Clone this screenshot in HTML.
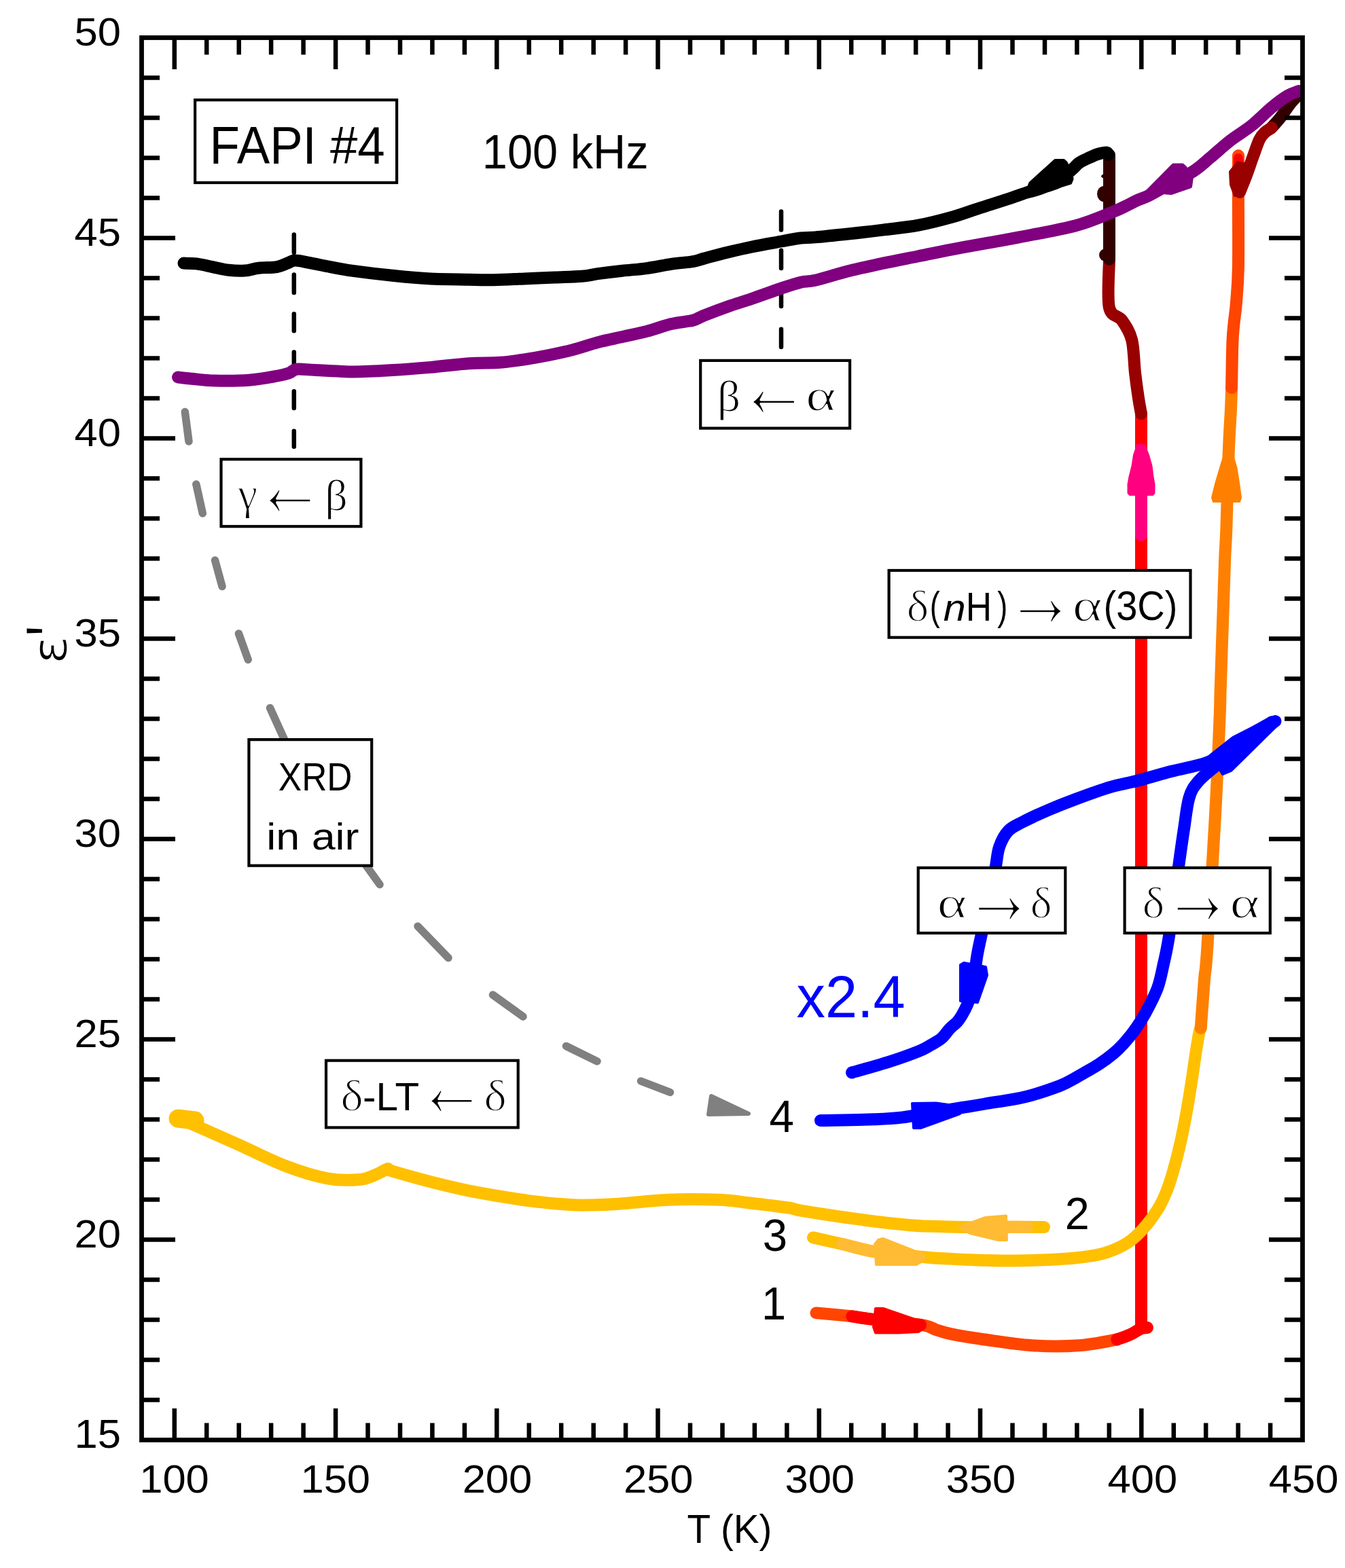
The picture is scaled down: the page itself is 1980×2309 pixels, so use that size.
<!DOCTYPE html>
<html><head><meta charset="utf-8"><title>FAPI #4 dielectric permittivity vs temperature</title>
<style>html,body{margin:0;padding:0;background:#fff;}svg{display:block;}</style></head>
<body><svg width="1980" height="2309" viewBox="0 0 1980 2309">
<rect width="1980" height="2309" fill="#fff"/>
<defs><clipPath id="pc"><rect x="208.5" y="55.5" width="1709" height="2065"/></clipPath></defs><g clip-path="url(#pc)">
<path d="M272.3,606.5 L278.0,650.0 M288.8,713.0 L298.3,756.0 M316.5,825.0 L327.0,863.6 M351.4,933.0 L365.2,971.4 M397.5,1042.5 L420.0,1092.0 M530.0,1262.0 L559.0,1302.5 M615.0,1364.0 L660.0,1410.5 M725.5,1465.0 L770.0,1497.0 M833.5,1540.5 L879.0,1562.8 M943.5,1592.0 L986.5,1608.5" stroke="#808080" stroke-width="11.5" stroke-linecap="round" fill="none"/>
<path d="M1047.0,1614.0 L1102.0,1640.0 L1043.0,1641.0Z" fill="#808080" stroke="#808080" stroke-width="6" stroke-linejoin="round"/>
<path d="M432.8,345.5 L432.8,372 M432.8,404.6 L432.8,431 M432.8,462.3 L432.8,487.2 M432.8,518.6 L432.8,543.5 M432.8,576.3 L432.8,601 M432.8,634.8 L432.8,657.7 M1150,311.6 L1150,338.6 M1150,368.7 L1150,394.9 M1150,425.9 L1150,451.1 M1150,484.8 L1150,510.9" stroke="#000" stroke-width="6.5" stroke-linecap="round" fill="none"/>
<path d="M1680.0,609.3 L1680.0,1953.0" fill="none" stroke="#ff0000" stroke-width="18" stroke-linecap="round" stroke-linejoin="round" />
<path d="M1197.0,1822.4 C1204.2,1824.0 1224.6,1828.5 1239.9,1832.0 C1255.2,1835.5 1268.1,1840.2 1288.7,1843.5 C1309.3,1846.8 1346.3,1849.8 1363.8,1851.5 C1381.3,1853.2 1381.8,1852.7 1393.9,1853.4 C1406.0,1854.1 1420.5,1855.0 1436.6,1855.5 C1452.7,1856.0 1470.8,1856.7 1490.6,1856.5 C1510.4,1856.3 1537.2,1855.5 1555.4,1854.5 C1573.6,1853.5 1587.6,1852.2 1600.0,1850.4 C1612.4,1848.7 1620.0,1847.4 1630.0,1844.0 C1640.0,1840.6 1651.2,1835.7 1660.0,1830.0 C1668.8,1824.3 1675.0,1818.3 1682.5,1810.0 C1690.0,1801.7 1699.0,1789.2 1704.8,1780.0 C1710.5,1770.8 1713.3,1764.2 1717.0,1755.0 C1720.7,1745.8 1723.6,1736.9 1727.0,1725.0 C1730.4,1713.1 1734.2,1698.4 1737.6,1683.4 C1741.0,1668.4 1744.3,1651.2 1747.2,1635.1 C1750.1,1619.0 1752.8,1601.4 1755.0,1586.9 C1757.2,1572.4 1758.9,1559.6 1760.7,1548.3 C1762.5,1537.0 1764.4,1525.0 1765.6,1519.3 C1766.8,1513.6 1767.3,1514.9 1767.7,1514.0" fill="none" stroke="#ffc000" stroke-width="18" stroke-linecap="round" stroke-linejoin="round" />
<path d="M1767.7,1514.0 C1768.6,1502.0 1771.5,1461.0 1773.0,1442.0 C1774.5,1423.0 1774.3,1440.3 1777.0,1400.0 C1779.7,1359.7 1785.9,1256.7 1789.0,1200.0 C1792.1,1143.3 1794.2,1089.7 1795.4,1060.0 C1796.7,1030.3 1796.0,1039.3 1796.5,1021.8 C1797.0,1004.3 1798.0,977.4 1798.7,955.2 C1799.5,933.0 1800.2,910.8 1801.0,888.6 C1801.8,866.4 1802.5,840.5 1803.2,822.0 C1803.9,803.5 1804.5,803.5 1805.4,777.6 C1806.3,751.7 1807.6,696.2 1808.7,666.6 C1809.8,637.0 1811.4,615.9 1812.1,600.0 C1812.8,584.1 1812.9,575.9 1813.1,571.1" fill="none" stroke="#ff8000" stroke-width="18" stroke-linecap="round" stroke-linejoin="round" />
<path d="M1813.1,571.1 C1813.3,560.0 1813.8,520.4 1814.4,504.2 C1815.0,488.0 1815.9,483.3 1816.8,473.8 C1817.7,464.3 1818.8,460.6 1819.8,447.4 C1820.8,434.2 1822.4,421.1 1822.9,394.7 C1823.4,368.3 1822.9,316.6 1822.9,289.0 C1822.9,261.4 1823.0,239.0 1823.0,229.0" fill="none" stroke="#ff4500" stroke-width="18" stroke-linecap="round" stroke-linejoin="round" />
<path d="M1823.0,233.0 L1823.0,250.0" fill="none" stroke="#ff0000" stroke-width="14" stroke-linecap="round" stroke-linejoin="round" />
<path d="M1239.9,1832.0 C1248.0,1833.9 1273.7,1840.8 1288.7,1843.5 C1303.7,1846.2 1323.1,1847.2 1330.0,1848.0" fill="none" stroke="#ffbb33" stroke-width="18" stroke-linecap="round" stroke-linejoin="round" />
<path d="M1288.0,1832.0 L1293.0,1826.0 L1300.0,1824.0 L1361.0,1848.0 L1361.0,1855.0 L1349.0,1862.0 L1290.0,1862.0Z" fill="#ffbb33" stroke="#ffbb33" stroke-width="4" stroke-linejoin="round"/>
<path d="M1804.0,663.0 L1813.0,663.0 L1820.5,689.0 L1824.0,711.0 L1827.0,733.0 L1825.0,739.0 L1786.0,739.0 L1784.0,733.0 L1789.5,711.0 L1796.0,689.0Z" fill="#ff8000" stroke="#ff8000" stroke-width="2" stroke-linejoin="round"/>
<path d="M1633.0,381.0 C1633.0,392.9 1629.7,437.3 1632.8,452.4 C1635.9,467.5 1646.1,463.6 1651.7,471.7 C1657.3,479.8 1663.0,487.8 1666.2,500.7 C1669.4,513.6 1669.4,534.9 1671.0,549.0 C1672.6,563.1 1674.3,575.2 1675.8,585.2 C1677.3,595.2 1679.3,605.3 1680.0,609.3" fill="none" stroke="#990000" stroke-width="18" stroke-linecap="round" stroke-linejoin="round" />
<path d="M1633.0,228.0 L1633.0,382.0" fill="none" stroke="#330000" stroke-width="18" stroke-linecap="round" stroke-linejoin="round" />
<ellipse cx="1625" cy="285.5" rx="10" ry="11.5" fill="#330000"/>
<ellipse cx="1628" cy="375.5" rx="10" ry="9.5" fill="#330000"/>
<ellipse cx="1630" cy="259.5" rx="9" ry="4" fill="#330000"/>
<path d="M1914.0,137.0 C1911.7,139.5 1904.8,146.0 1900.0,152.0 C1895.2,158.0 1889.8,166.8 1885.0,173.0 C1880.2,179.2 1873.3,186.3 1871.0,189.0" fill="none" stroke="#330000" stroke-width="18" stroke-linecap="round" stroke-linejoin="round" />
<path d="M1872.0,188.0 C1870.3,189.2 1865.0,192.1 1862.0,195.0 C1859.0,197.9 1856.9,199.6 1854.0,205.6 C1851.1,211.6 1847.7,222.3 1844.5,231.0 C1841.3,239.7 1838.2,249.3 1835.0,258.0 C1831.8,266.7 1826.7,278.8 1825.0,283.0" fill="none" stroke="#990000" stroke-width="18" stroke-linecap="round" stroke-linejoin="round" />
<path d="M1811.0,253.0 L1822.0,239.0 L1838.0,243.0 L1838.0,268.0 L1828.0,288.0 L1818.0,288.0 L1812.0,272.0Z" fill="#990000" stroke="#990000" stroke-width="4" stroke-linejoin="round"/>
<path d="M270.5,387.6 C273.6,387.7 282.3,387.5 289.4,388.4 C296.5,389.3 305.1,391.5 313.0,393.1 C320.9,394.7 328.8,396.9 336.7,397.8 C344.6,398.7 352.9,399.1 360.3,398.6 C367.7,398.1 372.9,395.6 380.8,394.7 C388.7,393.8 400.5,394.3 407.6,393.1 C414.7,391.9 418.8,389.2 423.3,387.6 C427.8,386.0 429.1,383.7 434.4,383.6 C439.7,383.5 446.2,385.2 454.9,386.8 C463.6,388.4 475.9,391.1 486.4,393.1 C496.9,395.1 502.7,396.5 517.9,398.6 C533.1,400.7 558.3,403.8 577.6,405.8 C596.9,407.8 617.5,409.7 633.9,410.6 C650.3,411.5 660.6,411.1 676.1,411.4 C691.6,411.7 711.0,412.4 727.0,412.2 C743.0,412.0 757.0,411.0 772.0,410.4 C787.0,409.8 802.9,409.2 817.0,408.6 C831.1,408.0 846.2,407.7 856.7,406.8 C867.2,405.9 870.1,404.6 880.0,403.2 C889.9,401.8 904.1,400.0 916.1,398.7 C928.1,397.4 940.1,396.8 952.1,395.1 C964.1,393.5 976.8,390.5 988.1,388.8 C999.4,387.1 1011.9,386.6 1020.0,385.2 C1028.2,383.8 1028.4,382.8 1037.0,380.5 C1045.6,378.2 1059.7,374.3 1071.4,371.5 C1083.1,368.7 1093.9,366.2 1107.0,363.5 C1120.1,360.8 1138.1,357.7 1150.0,355.5 C1161.9,353.3 1170.3,351.5 1178.6,350.5 C1186.9,349.5 1188.0,350.4 1200.0,349.4 C1212.0,348.4 1233.7,346.1 1250.6,344.3 C1267.5,342.5 1284.4,340.5 1301.3,338.4 C1318.2,336.3 1335.1,334.9 1352.0,331.7 C1368.9,328.5 1387.6,323.6 1402.6,319.4 C1417.6,315.2 1428.2,310.9 1441.8,306.5 C1455.4,302.1 1472.6,296.8 1484.0,293.0 C1495.4,289.2 1503.2,286.2 1510.0,284.0 C1516.8,281.8 1520.0,281.6 1525.0,280.0 C1530.0,278.4 1534.7,276.4 1540.0,274.5 C1545.3,272.6 1552.0,271.4 1557.0,268.5 C1562.0,265.6 1566.2,260.4 1570.0,257.0 C1573.8,253.6 1576.8,250.9 1580.0,248.0 C1583.2,245.1 1585.0,242.2 1589.0,239.5 C1593.0,236.8 1599.5,234.1 1604.0,232.0 C1608.5,229.9 1611.9,228.2 1616.0,227.0 C1620.1,225.8 1625.9,224.3 1628.6,224.5 C1631.3,224.7 1631.4,227.4 1632.0,228.0" fill="none" stroke="#000" stroke-width="18" stroke-linecap="round" stroke-linejoin="round" />
<path d="M1512.0,279.0 L1516.0,269.0 L1553.0,235.5 L1566.0,235.5 L1570.0,239.0 L1578.0,256.0 L1579.0,264.0 L1576.5,270.0 L1557.0,276.0 L1535.0,282.0Z" fill="#000" stroke="#000" stroke-width="3" stroke-linejoin="round"/>
<path d="M262.0,555.5 C265.4,555.9 273.2,556.9 282.2,557.8 C291.2,558.6 301.9,560.3 316.0,560.6 C330.1,560.9 351.1,560.9 366.6,559.7 C382.1,558.5 399.0,555.2 408.8,553.5 C418.6,551.8 421.0,550.9 425.7,549.3 C430.4,547.7 430.4,544.4 437.0,543.7 C443.6,543.0 451.0,544.5 465.1,545.1 C479.2,545.7 502.6,547.4 521.4,547.4 C540.1,547.4 558.9,546.2 577.6,545.1 C596.4,544.0 615.1,542.5 633.9,540.9 C652.7,539.2 673.2,536.4 690.2,535.2 C707.2,534.0 722.4,534.8 736.0,533.8 C749.6,532.8 760.0,531.1 772.0,529.3 C784.0,527.5 796.0,525.4 808.0,523.0 C820.0,520.6 832.1,518.0 844.1,514.9 C856.1,511.8 868.1,507.2 880.1,504.1 C892.1,501.0 904.1,498.7 916.1,496.0 C928.1,493.3 940.1,491.0 952.1,487.9 C964.1,484.8 976.8,479.8 988.1,477.1 C999.4,474.4 1012.1,473.8 1020.0,471.7 C1027.9,469.6 1027.1,468.2 1035.7,464.8 C1044.3,461.4 1059.5,455.6 1071.4,451.4 C1083.3,447.2 1094.0,444.3 1107.1,439.8 C1120.2,435.3 1138.1,428.6 1150.0,424.6 C1161.9,420.6 1170.3,417.7 1178.6,415.7 C1186.9,413.7 1188.0,415.5 1200.0,412.7 C1212.0,409.9 1233.7,403.0 1250.6,398.8 C1267.5,394.6 1284.4,391.0 1301.3,387.4 C1318.2,383.8 1335.1,380.6 1352.0,377.2 C1368.9,373.8 1385.7,370.3 1402.6,367.1 C1419.5,363.9 1437.0,360.8 1453.2,357.8 C1469.4,354.9 1478.3,353.7 1500.0,349.4 C1521.7,345.1 1560.8,338.3 1583.6,332.2 C1606.4,326.1 1624.1,317.7 1636.8,312.7 C1649.5,307.7 1653.6,305.1 1660.0,302.1 C1666.4,299.1 1670.1,296.8 1675.2,294.5 C1680.3,292.2 1682.9,292.1 1690.4,288.4 C1697.9,284.6 1708.9,278.1 1720.0,272.0 C1731.1,265.9 1746.9,258.5 1757.2,251.9 C1767.5,245.3 1772.5,239.8 1781.6,232.2 C1790.7,224.6 1801.9,214.2 1812.0,206.4 C1822.1,198.6 1832.2,193.2 1842.3,185.1 C1852.4,177.0 1863.8,165.0 1872.7,157.7 C1881.6,150.3 1889.0,144.9 1895.5,141.0 C1902.0,137.1 1909.2,135.2 1912.0,134.0" fill="none" stroke="#800080" stroke-width="18" stroke-linecap="round" stroke-linejoin="round" />
<path d="M1688.0,282.0 L1727.0,242.5 L1741.0,242.5 L1745.0,246.0 L1755.0,261.0 L1753.0,275.0 L1724.0,285.0Z" fill="#800080" stroke="#800080" stroke-width="4" stroke-linejoin="round"/>
<path d="M265.0,1647.0 C269.7,1649.1 278.8,1653.5 293.0,1659.8 C307.2,1666.1 329.0,1675.5 350.0,1685.0 C371.0,1694.5 397.1,1708.1 419.1,1716.5 C441.1,1724.9 463.7,1732.0 482.1,1735.4 C500.5,1738.8 517.3,1738.0 529.4,1737.0 C541.5,1736.0 547.8,1731.7 554.6,1729.1 C561.4,1726.5 566.7,1722.0 570.4,1721.2 C574.1,1720.4 565.2,1721.0 576.7,1724.4 C588.2,1727.8 618.7,1736.5 639.7,1741.7 C660.7,1747.0 679.3,1751.5 702.7,1755.9 C726.1,1760.3 757.4,1765.3 780.0,1768.3 C802.6,1771.3 823.2,1773.1 838.5,1774.1 C853.8,1775.1 859.8,1774.6 872.0,1774.4 C884.2,1774.2 892.9,1774.0 911.7,1772.7 C930.5,1771.4 960.5,1767.8 984.9,1766.8 C1009.3,1765.8 1038.5,1766.1 1058.0,1766.8 C1077.5,1767.5 1084.8,1769.2 1101.9,1771.2 C1119.0,1773.2 1147.4,1776.6 1160.4,1778.5 C1173.4,1780.4 1162.5,1779.9 1180.0,1782.8 C1197.5,1785.7 1238.8,1792.1 1265.5,1795.7 C1292.2,1799.3 1319.0,1802.4 1340.4,1804.2 C1361.8,1806.0 1377.3,1805.9 1393.9,1806.4 C1410.5,1806.9 1423.9,1807.2 1440.0,1807.3 C1456.1,1807.4 1474.4,1806.8 1490.6,1806.8 C1506.8,1806.8 1529.3,1807.0 1537.0,1807.0" fill="none" stroke="#ffc000" stroke-width="18" stroke-linecap="round" stroke-linejoin="round" />
<path d="M262.0,1647.0 L287.0,1650.0" fill="none" stroke="#ffc000" stroke-width="27" stroke-linecap="round" stroke-linejoin="round" />
<path d="M1440.0,1807.3 C1448.4,1807.2 1478.6,1806.8 1490.6,1806.8 C1502.6,1806.8 1508.4,1807.0 1512.0,1807.0" fill="none" stroke="#ffbb33" stroke-width="18" stroke-linecap="round" stroke-linejoin="round" />
<path d="M1412.0,1807.0 L1451.0,1793.0 L1481.0,1790.5 L1482.0,1826.0 L1470.0,1826.0 L1428.0,1816.0Z" fill="#ffbb33" stroke="#ffbb33" stroke-width="4" stroke-linejoin="round"/>
<path d="M1201.5,1933.4 C1206.2,1933.8 1220.7,1935.1 1229.5,1935.9 C1238.3,1936.7 1246.0,1937.4 1254.3,1938.4 C1262.5,1939.4 1268.0,1940.7 1279.0,1942.1 C1290.0,1943.5 1306.2,1945.3 1320.0,1947.0 C1333.8,1948.7 1352.3,1950.1 1362.0,1952.0 C1371.7,1953.9 1371.8,1956.1 1378.1,1958.2 C1384.4,1960.3 1388.2,1962.0 1400.0,1964.4 C1411.8,1966.8 1429.1,1969.7 1448.9,1972.5 C1468.7,1975.3 1495.4,1979.8 1518.7,1981.2 C1542.0,1982.7 1567.6,1982.7 1588.5,1981.2 C1609.4,1979.8 1635.0,1974.0 1644.3,1972.5" fill="none" stroke="#ff4500" stroke-width="18" stroke-linecap="round" stroke-linejoin="round" />
<path d="M1254.3,1938.4 C1258.4,1939.0 1268.0,1940.7 1279.0,1942.1 C1290.0,1943.5 1307.3,1945.5 1320.0,1947.0 C1332.7,1948.5 1349.2,1950.3 1355.0,1951.0" fill="none" stroke="#ff0000" stroke-width="18" stroke-linecap="round" stroke-linejoin="round" />
<path d="M1289.0,1927.0 L1300.0,1927.0 L1361.0,1948.0 L1361.0,1955.0 L1352.0,1961.0 L1323.0,1962.5 L1289.0,1962.5 L1286.0,1954.0Z" fill="#ff0000" stroke="#ff0000" stroke-width="4" stroke-linejoin="round"/>
<path d="M1644.3,1972.5 C1647.2,1971.4 1656.8,1968.3 1662.0,1966.0 C1667.2,1963.7 1672.5,1960.2 1675.7,1958.5 C1678.9,1956.8 1678.8,1956.6 1681.0,1956.0 C1683.2,1955.4 1687.7,1955.2 1689.0,1955.0" fill="none" stroke="#ff0000" stroke-width="18" stroke-linecap="round" stroke-linejoin="round" />
<path d="M1872.3,1063.3 C1865.0,1067.6 1839.1,1082.3 1828.3,1089.2 C1817.5,1096.1 1816.2,1099.1 1807.6,1104.7 C1799.0,1110.3 1790.3,1117.6 1776.5,1122.8 C1762.7,1128.0 1742.0,1131.3 1724.8,1135.8 C1707.5,1140.3 1688.1,1146.1 1673.0,1150.0 C1657.9,1153.9 1649.3,1154.6 1634.2,1159.1 C1619.1,1163.6 1597.5,1171.6 1582.4,1177.2 C1567.3,1182.8 1556.5,1187.1 1543.5,1192.7 C1530.5,1198.3 1514.6,1205.7 1504.7,1210.9 C1494.8,1216.1 1489.6,1217.8 1484.0,1223.8 C1478.4,1229.8 1474.1,1238.5 1471.1,1247.1 C1468.1,1255.7 1468.1,1263.4 1465.9,1275.6 C1463.7,1287.8 1460.7,1306.8 1458.0,1320.0 C1455.3,1333.2 1452.3,1345.0 1450.0,1355.0 C1447.7,1365.0 1445.9,1371.3 1444.0,1380.0 C1442.1,1388.7 1440.2,1397.0 1438.5,1407.0 C1436.8,1417.0 1435.4,1430.8 1434.0,1440.0 C1432.6,1449.2 1431.7,1455.3 1430.0,1462.0 C1428.3,1468.7 1426.0,1474.5 1423.7,1480.0 C1421.4,1485.5 1418.5,1490.8 1416.0,1495.0 C1413.5,1499.2 1412.0,1501.7 1409.0,1505.0 C1406.0,1508.3 1401.8,1511.0 1398.0,1515.0 C1394.2,1519.0 1390.7,1525.0 1386.0,1529.0 C1381.3,1533.0 1375.6,1535.8 1370.0,1539.0 C1364.4,1542.2 1362.9,1543.8 1352.5,1548.0 C1342.1,1552.2 1323.9,1558.8 1307.5,1564.0 C1291.1,1569.2 1262.9,1576.9 1254.0,1579.5" fill="none" stroke="#0000ff" stroke-width="18" stroke-linecap="round" stroke-linejoin="round" />
<path d="M1414.0,1421.0 L1419.0,1418.0 L1451.0,1424.0 L1453.0,1436.0 L1439.0,1476.0 L1414.0,1474.0Z" fill="#0000ff" stroke="#0000ff" stroke-width="4" stroke-linejoin="round"/>
<path d="M1208.0,1650.0 C1221.1,1649.7 1266.4,1649.1 1286.6,1648.3 C1306.8,1647.5 1313.4,1647.3 1329.0,1645.4 C1344.6,1643.5 1365.4,1639.4 1380.0,1637.0 C1394.6,1634.6 1404.8,1632.9 1416.5,1631.0 C1428.2,1629.1 1434.4,1628.2 1450.0,1625.5 C1465.6,1622.8 1491.9,1619.3 1510.2,1614.9 C1528.5,1610.5 1548.0,1603.5 1560.0,1599.0 C1572.0,1594.5 1576.0,1591.2 1582.0,1588.0 C1588.0,1584.8 1590.0,1583.5 1596.0,1580.0 C1602.0,1576.5 1610.7,1571.8 1618.0,1567.0 C1625.3,1562.2 1633.6,1556.0 1639.6,1551.0 C1645.6,1546.0 1648.8,1542.8 1654.0,1537.0 C1659.2,1531.2 1665.5,1523.7 1671.0,1516.0 C1676.5,1508.3 1681.2,1501.2 1686.7,1491.0 C1692.2,1480.8 1699.6,1467.0 1704.0,1455.0 C1708.4,1443.0 1710.1,1432.0 1713.0,1419.0 C1715.9,1406.0 1717.5,1401.1 1721.2,1377.2 C1724.9,1353.3 1731.5,1301.6 1735.1,1275.6 C1738.7,1249.6 1740.3,1238.0 1742.9,1221.2 C1745.5,1204.4 1747.1,1186.2 1750.6,1174.6 C1754.0,1162.9 1757.1,1159.1 1763.6,1151.3 C1770.1,1143.5 1778.7,1137.0 1789.5,1128.0 C1800.3,1119.0 1813.6,1108.0 1828.3,1097.0 C1843.0,1086.0 1869.3,1067.8 1877.5,1062.0" fill="none" stroke="#0000ff" stroke-width="18" stroke-linecap="round" stroke-linejoin="round" />
<path d="M1343.0,1625.0 L1378.0,1624.5 L1418.0,1630.0 L1413.0,1640.0 L1355.0,1661.0 L1345.0,1661.0Z" fill="#0000ff" stroke="#0000ff" stroke-width="4" stroke-linejoin="round"/>
<path d="M1782.0,1112.0 L1815.0,1086.0 L1870.0,1058.0 L1880.0,1068.0 L1812.0,1135.0 L1800.0,1140.0Z" fill="#0000ff" stroke="#0000ff" stroke-width="4" stroke-linejoin="round"/>
<path d="M1680.0,730.0 L1680.0,788.0" fill="none" stroke="#ff0080" stroke-width="18" stroke-linecap="round" stroke-linejoin="round" />
<path d="M1674.0,655.0 L1685.0,655.0 L1691.0,670.0 L1695.5,686.0 L1697.5,702.0 L1699.5,713.0 L1699.5,726.0 L1697.0,729.0 L1663.0,729.0 L1660.5,726.0 L1660.5,713.0 L1662.5,702.0 L1666.5,686.0 L1669.0,670.0Z" fill="#ff0080" stroke="#ff0080" stroke-width="2" stroke-linejoin="round"/>
</g>
<rect x="287.1" y="147.2" width="297.0" height="121.8" fill="#fff" stroke="#000" stroke-width="4.2"/>
<rect x="325.5" y="676.3" width="205.9" height="98.9" fill="#fff" stroke="#000" stroke-width="4.2"/>
<rect x="1031.2" y="530.9" width="219.9" height="99.7" fill="#fff" stroke="#000" stroke-width="4.2"/>
<rect x="366.4" y="1089.1" width="180.8" height="185.6" fill="#fff" stroke="#000" stroke-width="4.2"/>
<rect x="480.0" y="1561.7" width="282.7" height="98.7" fill="#fff" stroke="#000" stroke-width="4.2"/>
<rect x="1308.6" y="840.0" width="443.9" height="98.7" fill="#fff" stroke="#000" stroke-width="4.2"/>
<rect x="1351.7" y="1277.9" width="216.6" height="96.1" fill="#fff" stroke="#000" stroke-width="4.2"/>
<rect x="1655.6" y="1277.9" width="214.2" height="96.1" fill="#fff" stroke="#000" stroke-width="4.2"/>
<path d="M256.8,2120.5 V2074.0 M256.8,55.5 V102.0 M304.2,2120.5 V2095.5 M304.2,55.5 V80.5 M351.7,2120.5 V2095.5 M351.7,55.5 V80.5 M399.1,2120.5 V2095.5 M399.1,55.5 V80.5 M446.6,2120.5 V2095.5 M446.6,55.5 V80.5 M494.1,2120.5 V2074.0 M494.1,55.5 V102.0 M541.5,2120.5 V2095.5 M541.5,55.5 V80.5 M589.0,2120.5 V2095.5 M589.0,55.5 V80.5 M636.4,2120.5 V2095.5 M636.4,55.5 V80.5 M683.9,2120.5 V2095.5 M683.9,55.5 V80.5 M731.3,2120.5 V2074.0 M731.3,55.5 V102.0 M778.8,2120.5 V2095.5 M778.8,55.5 V80.5 M826.2,2120.5 V2095.5 M826.2,55.5 V80.5 M873.7,2120.5 V2095.5 M873.7,55.5 V80.5 M921.1,2120.5 V2095.5 M921.1,55.5 V80.5 M968.5,2120.5 V2074.0 M968.5,55.5 V102.0 M1016.0,2120.5 V2095.5 M1016.0,55.5 V80.5 M1063.5,2120.5 V2095.5 M1063.5,55.5 V80.5 M1110.9,2120.5 V2095.5 M1110.9,55.5 V80.5 M1158.4,2120.5 V2095.5 M1158.4,55.5 V80.5 M1205.8,2120.5 V2074.0 M1205.8,55.5 V102.0 M1253.2,2120.5 V2095.5 M1253.2,55.5 V80.5 M1300.7,2120.5 V2095.5 M1300.7,55.5 V80.5 M1348.2,2120.5 V2095.5 M1348.2,55.5 V80.5 M1395.6,2120.5 V2095.5 M1395.6,55.5 V80.5 M1443.0,2120.5 V2074.0 M1443.0,55.5 V102.0 M1490.5,2120.5 V2095.5 M1490.5,55.5 V80.5 M1538.0,2120.5 V2095.5 M1538.0,55.5 V80.5 M1585.4,2120.5 V2095.5 M1585.4,55.5 V80.5 M1632.8,2120.5 V2095.5 M1632.8,55.5 V80.5 M1680.3,2120.5 V2074.0 M1680.3,55.5 V102.0 M1727.8,2120.5 V2095.5 M1727.8,55.5 V80.5 M1775.2,2120.5 V2095.5 M1775.2,55.5 V80.5 M1822.7,2120.5 V2095.5 M1822.7,55.5 V80.5 M1870.1,2120.5 V2095.5 M1870.1,55.5 V80.5 M208.5,2061.5 H235.0 M1917.5,2061.5 H1891.0 M208.5,2002.5 H235.0 M1917.5,2002.5 H1891.0 M208.5,1943.5 H235.0 M1917.5,1943.5 H1891.0 M208.5,1884.5 H235.0 M1917.5,1884.5 H1891.0 M208.5,1825.5 H258.0 M1917.5,1825.5 H1868.0 M208.5,1766.5 H235.0 M1917.5,1766.5 H1891.0 M208.5,1707.5 H235.0 M1917.5,1707.5 H1891.0 M208.5,1648.5 H235.0 M1917.5,1648.5 H1891.0 M208.5,1589.5 H235.0 M1917.5,1589.5 H1891.0 M208.5,1530.5 H258.0 M1917.5,1530.5 H1868.0 M208.5,1471.5 H235.0 M1917.5,1471.5 H1891.0 M208.5,1412.5 H235.0 M1917.5,1412.5 H1891.0 M208.5,1353.5 H235.0 M1917.5,1353.5 H1891.0 M208.5,1294.5 H235.0 M1917.5,1294.5 H1891.0 M208.5,1235.5 H258.0 M1917.5,1235.5 H1868.0 M208.5,1176.5 H235.0 M1917.5,1176.5 H1891.0 M208.5,1117.5 H235.0 M1917.5,1117.5 H1891.0 M208.5,1058.5 H235.0 M1917.5,1058.5 H1891.0 M208.5,999.5 H235.0 M1917.5,999.5 H1891.0 M208.5,940.5 H258.0 M1917.5,940.5 H1868.0 M208.5,881.5 H235.0 M1917.5,881.5 H1891.0 M208.5,822.5 H235.0 M1917.5,822.5 H1891.0 M208.5,763.5 H235.0 M1917.5,763.5 H1891.0 M208.5,704.5 H235.0 M1917.5,704.5 H1891.0 M208.5,645.5 H258.0 M1917.5,645.5 H1868.0 M208.5,586.5 H235.0 M1917.5,586.5 H1891.0 M208.5,527.5 H235.0 M1917.5,527.5 H1891.0 M208.5,468.5 H235.0 M1917.5,468.5 H1891.0 M208.5,409.5 H235.0 M1917.5,409.5 H1891.0 M208.5,350.5 H258.0 M1917.5,350.5 H1868.0 M208.5,291.5 H235.0 M1917.5,291.5 H1891.0 M208.5,232.5 H235.0 M1917.5,232.5 H1891.0 M208.5,173.5 H235.0 M1917.5,173.5 H1891.0 M208.5,114.5 H235.0 M1917.5,114.5 H1891.0" stroke="#000" stroke-width="6.5" fill="none"/>
<rect x="208.5" y="55.5" width="1709.0" height="2065.0" fill="none" stroke="#000" stroke-width="6.8"/>
<g transform="translate(205.21,2198.32) scale(0.6151,0.5789)"><text x="0" y="0" font-family="'Liberation Sans', 'DejaVu Sans', sans-serif" font-size="100" fill="#000" >100</text></g>
<g transform="translate(442.46,2198.32) scale(0.6151,0.5789)"><text x="0" y="0" font-family="'Liberation Sans', 'DejaVu Sans', sans-serif" font-size="100" fill="#000" >150</text></g>
<g transform="translate(680.63,2198.32) scale(0.6151,0.5789)"><text x="0" y="0" font-family="'Liberation Sans', 'DejaVu Sans', sans-serif" font-size="100" fill="#000" >200</text></g>
<g transform="translate(917.88,2198.32) scale(0.6151,0.5789)"><text x="0" y="0" font-family="'Liberation Sans', 'DejaVu Sans', sans-serif" font-size="100" fill="#000" >250</text></g>
<g transform="translate(1155.44,2198.32) scale(0.6151,0.5789)"><text x="0" y="0" font-family="'Liberation Sans', 'DejaVu Sans', sans-serif" font-size="100" fill="#000" >300</text></g>
<g transform="translate(1392.69,2198.32) scale(0.6151,0.5789)"><text x="0" y="0" font-family="'Liberation Sans', 'DejaVu Sans', sans-serif" font-size="100" fill="#000" >350</text></g>
<g transform="translate(1630.55,2198.32) scale(0.6151,0.5789)"><text x="0" y="0" font-family="'Liberation Sans', 'DejaVu Sans', sans-serif" font-size="100" fill="#000" >400</text></g>
<g transform="translate(1867.80,2198.32) scale(0.6151,0.5789)"><text x="0" y="0" font-family="'Liberation Sans', 'DejaVu Sans', sans-serif" font-size="100" fill="#000" >450</text></g>
<g transform="translate(109.48,2131.91) scale(0.6151,0.5857)"><text x="0" y="0" font-family="'Liberation Sans', 'DejaVu Sans', sans-serif" font-size="100" fill="#000" >15</text></g>
<g transform="translate(109.48,1836.92) scale(0.6151,0.5775)"><text x="0" y="0" font-family="'Liberation Sans', 'DejaVu Sans', sans-serif" font-size="100" fill="#000" >20</text></g>
<g transform="translate(109.48,1541.92) scale(0.6151,0.5775)"><text x="0" y="0" font-family="'Liberation Sans', 'DejaVu Sans', sans-serif" font-size="100" fill="#000" >25</text></g>
<g transform="translate(109.48,1246.92) scale(0.6151,0.5775)"><text x="0" y="0" font-family="'Liberation Sans', 'DejaVu Sans', sans-serif" font-size="100" fill="#000" >30</text></g>
<g transform="translate(109.48,951.92) scale(0.6151,0.5775)"><text x="0" y="0" font-family="'Liberation Sans', 'DejaVu Sans', sans-serif" font-size="100" fill="#000" >35</text></g>
<g transform="translate(109.48,656.92) scale(0.6151,0.5775)"><text x="0" y="0" font-family="'Liberation Sans', 'DejaVu Sans', sans-serif" font-size="100" fill="#000" >40</text></g>
<g transform="translate(109.48,361.92) scale(0.6151,0.5775)"><text x="0" y="0" font-family="'Liberation Sans', 'DejaVu Sans', sans-serif" font-size="100" fill="#000" >45</text></g>
<g transform="translate(109.48,66.92) scale(0.6151,0.5775)"><text x="0" y="0" font-family="'Liberation Sans', 'DejaVu Sans', sans-serif" font-size="100" fill="#000" >50</text></g>
<g transform="translate(308.39,240.70) scale(0.7261,0.7814)"><text x="0" y="0" font-family="'Liberation Sans', 'DejaVu Sans', sans-serif" font-size="100" fill="#000" >FAPI #4</text></g>
<g transform="translate(709.86,248.39) scale(0.6675,0.7081)"><text x="0" y="0" font-family="'Liberation Sans', 'DejaVu Sans', sans-serif" font-size="100" fill="#000" >100 kHz</text></g>
<g transform="translate(349.80,750.10) scale(0.6667,0.6716)"><text stroke="#fff" stroke-width="2.69" stroke-linejoin="round" x="0" y="0" font-family="'Liberation Serif', 'DejaVu Serif', serif" font-size="100" fill="#000" >γ</text></g>
<g transform="translate(375.05,760.52) scale(1.0373,1.4250)"><text stroke="#fff" stroke-width="2.44" stroke-linejoin="round" x="0" y="0" font-family="'Liberation Serif', 'DejaVu Serif', serif" font-size="100" fill="#000" >←</text></g>
<g transform="translate(478.25,750.70) scale(0.6585,0.6429)"><text stroke="#fff" stroke-width="1.84" stroke-linejoin="round" x="0" y="0" font-family="'Liberation Serif', 'DejaVu Serif', serif" font-size="100" fill="#000" >β</text></g>
<g transform="translate(1055.75,605.02) scale(0.6756,0.6374)"><text stroke="#fff" stroke-width="1.83" stroke-linejoin="round" x="0" y="0" font-family="'Liberation Serif', 'DejaVu Serif', serif" font-size="100" fill="#000" >β</text></g>
<g transform="translate(1087.12,614.76) scale(1.0441,1.4125)"><text stroke="#fff" stroke-width="2.44" stroke-linejoin="round" x="0" y="0" font-family="'Liberation Serif', 'DejaVu Serif', serif" font-size="100" fill="#000" >←</text></g>
<g transform="translate(1185.88,604.35) scale(0.8543,0.6500)"><text stroke="#fff" stroke-width="2.39" stroke-linejoin="round" x="0" y="0" font-family="'Liberation Serif', 'DejaVu Serif', serif" font-size="100" fill="#000" >α</text></g>
<g transform="translate(501.14,1634.87) scale(0.7154,0.6268)"><text stroke="#fff" stroke-width="2.68" stroke-linejoin="round" x="0" y="0" font-family="'Liberation Serif', 'DejaVu Serif', serif" font-size="100" fill="#000" >δ</text></g>
<g transform="translate(533.96,1634.93) scale(0.5838,0.5729)"><text x="0" y="0" font-family="'Liberation Sans', 'DejaVu Sans', sans-serif" font-size="100" fill="#000" >-LT</text></g>
<g transform="translate(613.32,1645.08) scale(1.0339,1.4167)"><text stroke="#fff" stroke-width="2.45" stroke-linejoin="round" x="0" y="0" font-family="'Liberation Serif', 'DejaVu Serif', serif" font-size="100" fill="#000" >←</text></g>
<g transform="translate(712.24,1634.87) scale(0.7154,0.6268)"><text stroke="#fff" stroke-width="2.68" stroke-linejoin="round" x="0" y="0" font-family="'Liberation Serif', 'DejaVu Serif', serif" font-size="100" fill="#000" >δ</text></g>
<g transform="translate(1334.50,913.76) scale(0.7000,0.6366)"><text stroke="#fff" stroke-width="2.69" stroke-linejoin="round" x="0" y="0" font-family="'Liberation Serif', 'DejaVu Serif', serif" font-size="100" fill="#000" >δ</text></g>
<g transform="translate(1368.70,912.92) scale(0.4500,0.5989)"><text x="0" y="0" font-family="'Liberation Sans', 'DejaVu Sans', sans-serif" font-size="100" fill="#000" >(</text></g>
<g transform="translate(1388.82,914.40) scale(0.5918,0.5500)"><text x="0" y="0" font-family="'Liberation Sans', 'DejaVu Sans', sans-serif" font-size="100" fill="#000" font-style="italic">n</text></g>
<g transform="translate(1421.66,914.40) scale(0.5304,0.5928)"><text x="0" y="0" font-family="'Liberation Sans', 'DejaVu Sans', sans-serif" font-size="100" fill="#000" >H</text></g>
<g transform="translate(1468.15,912.92) scale(0.4500,0.5989)"><text x="0" y="0" font-family="'Liberation Sans', 'DejaVu Sans', sans-serif" font-size="100" fill="#000" >)</text></g>
<g transform="translate(1479.85,923.97) scale(1.0373,1.4333)"><text stroke="#fff" stroke-width="2.43" stroke-linejoin="round" x="0" y="0" font-family="'Liberation Serif', 'DejaVu Serif', serif" font-size="100" fill="#000" >→</text></g>
<g transform="translate(1578.73,914.03) scale(0.8413,0.6729)"><text stroke="#fff" stroke-width="2.38" stroke-linejoin="round" x="0" y="0" font-family="'Liberation Serif', 'DejaVu Serif', serif" font-size="100" fill="#000" >α</text></g>
<g transform="translate(1624.54,913.27) scale(0.5604,0.6064)"><text x="0" y="0" font-family="'Liberation Sans', 'DejaVu Sans', sans-serif" font-size="100" fill="#000" >(3C)</text></g>
<g transform="translate(1379.45,1351.34) scale(0.8370,0.6562)"><text stroke="#fff" stroke-width="2.41" stroke-linejoin="round" x="0" y="0" font-family="'Liberation Serif', 'DejaVu Serif', serif" font-size="100" fill="#000" >α</text></g>
<g transform="translate(1418.65,1361.83) scale(1.0424,1.4250)"><text stroke="#fff" stroke-width="2.43" stroke-linejoin="round" x="0" y="0" font-family="'Liberation Serif', 'DejaVu Serif', serif" font-size="100" fill="#000" >→</text></g>
<g transform="translate(1516.46,1351.37) scale(0.6846,0.6324)"><text stroke="#fff" stroke-width="2.73" stroke-linejoin="round" x="0" y="0" font-family="'Liberation Serif', 'DejaVu Serif', serif" font-size="100" fill="#000" >δ</text></g>
<g transform="translate(1681.60,1351.37) scale(0.7000,0.6324)"><text stroke="#fff" stroke-width="2.70" stroke-linejoin="round" x="0" y="0" font-family="'Liberation Serif', 'DejaVu Serif', serif" font-size="100" fill="#000" >δ</text></g>
<g transform="translate(1711.15,1361.83) scale(1.0424,1.4250)"><text stroke="#fff" stroke-width="2.43" stroke-linejoin="round" x="0" y="0" font-family="'Liberation Serif', 'DejaVu Serif', serif" font-size="100" fill="#000" >→</text></g>
<g transform="translate(1810.45,1351.34) scale(0.8370,0.6562)"><text stroke="#fff" stroke-width="2.41" stroke-linejoin="round" x="0" y="0" font-family="'Liberation Serif', 'DejaVu Serif', serif" font-size="100" fill="#000" >α</text></g>
<g transform="translate(409.87,1163.70) scale(0.5141,0.5786)"><text x="0" y="0" font-family="'Liberation Sans', 'DejaVu Sans', sans-serif" font-size="100" fill="#000" >XRD</text></g>
<g transform="translate(392.30,1251.45) scale(0.6284,0.5473)"><text x="0" y="0" font-family="'Liberation Sans', 'DejaVu Sans', sans-serif" font-size="100" fill="#000" >in air</text></g>
<g transform="translate(1172.55,1497.90) scale(0.8470,0.8757)"><text x="0" y="0" font-family="'Liberation Sans', 'DejaVu Sans', sans-serif" font-size="100" fill="#0000ff" >x2.4</text></g>
<g transform="translate(1132.49,1667.20) scale(0.6549,0.6743)"><text x="0" y="0" font-family="'Liberation Sans', 'DejaVu Sans', sans-serif" font-size="100" fill="#000" >4</text></g>
<g transform="translate(1122.69,1841.63) scale(0.6532,0.6718)"><text x="0" y="0" font-family="'Liberation Sans', 'DejaVu Sans', sans-serif" font-size="100" fill="#000" >3</text></g>
<g transform="translate(1567.66,1810.40) scale(0.6478,0.6729)"><text x="0" y="0" font-family="'Liberation Sans', 'DejaVu Sans', sans-serif" font-size="100" fill="#000" >2</text></g>
<g transform="translate(1121.01,1942.80) scale(0.6488,0.6826)"><text x="0" y="0" font-family="'Liberation Sans', 'DejaVu Sans', sans-serif" font-size="100" fill="#000" >1</text></g>
<g transform="translate(1011.57,2271.99) scale(0.5670,0.5957)"><text x="0" y="0" font-family="'Liberation Sans', 'DejaVu Sans', sans-serif" font-size="100" fill="#000" >T (K)</text></g>
<g transform="translate(97.70,977.92) scale(0.7034,0.7707)"><text stroke="#fff" stroke-width="2.04" stroke-linejoin="round" x="0" y="0" font-family="'DejaVu Sans', 'Liberation Serif', sans-serif" font-size="100" transform="rotate(-90)">ε</text></g>
<g transform="translate(110.82,936.18) scale(1.0409,0.7556)"><text x="0" y="0" font-family="'Liberation Sans', 'DejaVu Sans', sans-serif" font-size="100" transform="rotate(-90)">'</text></g>
</svg></body></html>
